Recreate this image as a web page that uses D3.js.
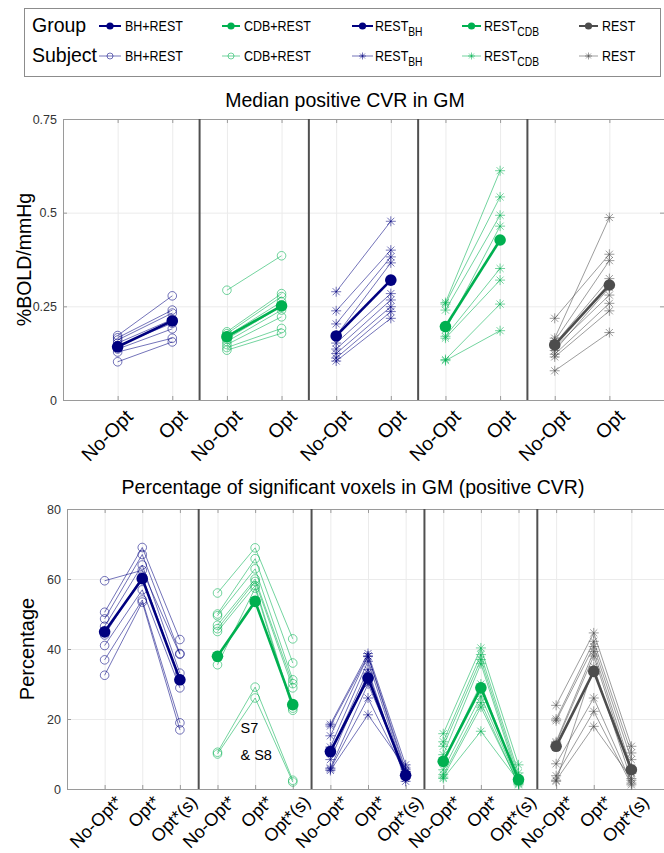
<!DOCTYPE html>
<html>
<head>
<meta charset="utf-8">
<script src="https://cdn.jsdelivr.net/npm/d3@7"></script>
<style>
  body { margin: 0; background: #fff; }
  svg { display: block; font-family: "Liberation Sans", Arial, Helvetica, sans-serif; }
  .grid line { stroke: #ebebeb; }
  .grid path { display: none; }
  .frame path, .frame line { stroke: #9a9a9a; }
  .frame text { fill: #333; }
</style>
</head>
<body>
<div id="graphic"></div>
<script>
// Categories and ticks
var groupNames = ["BH+REST", "CDB+REST", "REST_BH", "REST_CDB", "REST"];
var cvrConds = ["No-Opt", "Opt"];
var pctConds = ["No-Opt*", "Opt*", "Opt*(s)"];
var cvrTicks = [0, 0.25, 0.5, 0.75];
var pctTicks = [0, 20, 40, 60, 80];

// Median positive CVR in GM (%BOLD/mmHg): group medians [No-Opt, Opt]
var cvrMedian = [[0.142, 0.211], [0.169, 0.251], [0.171, 0.320], [0.196, 0.427], [0.147, 0.307]];
// per subject [No-Opt, Opt]
var cvrBH = [[0.172, 0.278], [0.166, 0.240], [0.160, 0.232], [0.152, 0.215], [0.145, 0.205], [0.136, 0.190], [0.128, 0.165], [0.102, 0.155]];
var cvrCDB = [[0.293, 0.385], [0.182, 0.284], [0.177, 0.276], [0.171, 0.262], [0.163, 0.250], [0.156, 0.240], [0.148, 0.222], [0.140, 0.191], [0.133, 0.178]];
var cvrRestBH = [[0.289, 0.477], [0.238, 0.400], [0.203, 0.382], [0.172, 0.366], [0.152, 0.284], [0.136, 0.267], [0.124, 0.249], [0.112, 0.236], [0.104, 0.218]];
var cvrRestCDB = [[0.260, 0.612], [0.256, 0.542], [0.240, 0.493], [0.187, 0.464], [0.170, 0.351], [0.165, 0.320], [0.108, 0.256], [0.105, 0.185]];
var cvrRest = [[0.218, 0.389], [0.165, 0.487], [0.158, 0.372], [0.150, 0.324], [0.140, 0.280], [0.132, 0.300], [0.122, 0.258], [0.115, 0.238], [0.078, 0.180]];

// Percentage of significant voxels in GM: group medians [No-Opt*, Opt*, Opt*(s)]
var pctMedian = [[44.9, 60.1, 31.2], [37.9, 53.6, 24.1], [10.7, 31.7, 3.9], [7.9, 28.9, 2.7], [12.2, 33.6, 5.5]];
// per subject [No-Opt*, Opt*, Opt*(s)]
var pctBH = [[59.5, 62.5, 38.5], [50.5, 69.0, 42.7], [48.6, 67.0, 38.7], [46.5, 64.0, 33.1], [44.0, 60.8, 31.4], [41.0, 56.9, 28.9], [36.9, 54.0, 18.9], [32.5, 53.4, 16.9]];
var pctCDB = [[56.0, 68.9, 42.9], [50.0, 65.8, 36.0], [49.5, 62.9, 31.2], [46.8, 60.0, 30.1], [45.8, 59.3, 28.9], [45.0, 58.1, 23.1], [35.5, 57.4, 22.5], [10.5, 29.1, 2.5], [10.0, 26.0, 2.0]];
var pctRestBH = [[18.5, 38.7, 6.9], [18.0, 38.0, 5.5], [15.2, 37.9, 4.6], [12.0, 36.5, 3.6], [10.3, 34.1, 2.2], [8.4, 33.1, 3.0], [6.0, 30.0, 5.0], [5.7, 26.0, 4.0], [5.3, 21.2, 6.0]];
var pctRestCDB = [[15.8, 40.3, 6.9], [13.5, 38.4, 4.6], [12.2, 37.0, 3.5], [9.8, 35.8, 2.5], [8.0, 30.0, 2.0], [5.5, 26.5, 1.7], [4.1, 24.7, 1.2], [3.4, 23.4, 1.5], [3.0, 16.5, 2.2]];
var pctRest = [[23.9, 44.6, 12.2], [20.0, 42.2, 10.3], [19.5, 40.7, 8.4], [13.5, 39.3, 6.0], [13.1, 38.0, 4.5], [7.2, 26.0, 1.7], [3.8, 22.2, 1.2], [2.5, 17.9, 3.0], [2.2, 35.0, 2.5]];

(function(d3) {
  // Group styling (colour + marker type)
  var styles = [
    { color: "#00007f", marker: "circle" },
    { color: "#00b050", marker: "circle" },
    { color: "#00007f", marker: "star" },
    { color: "#00b050", marker: "star" },
    { color: "#4d4d4d", marker: "star" }
  ];
  var subjAlpha = 0.55;

  var svg = d3.select("#graphic").append("svg")
      .attr("width", 664)
      .attr("height", 853);

  function star(r) {
    var a = r * 0.7071;
    return "M" + -r + ",0H" + r + "M0," + -r + "V" + r +
      "M" + -a + "," + -a + "L" + a + "," + a + "M" + -a + "," + a + "L" + a + "," + -a;
  }

  function marker(sel, type, color, size, filled) {
    if (type === "circle") {
      sel.append("circle")
        .attr("r", size)
        .attr("fill", filled ? color : "none")
        .attr("stroke", color)
        .attr("stroke-width", 1);
    } else {
      sel.append("path")
        .attr("d", star(size))
        .attr("fill", "none")
        .attr("stroke", color)
        .attr("stroke-width", 1);
    }
  }

  // One subplot: grid, separators, frame, subject + group lines
  function panel(p) {
    var nC = p.conds.length, nG = groupNames.length;
    var g = svg.append("g");

    var x = d3.scaleLinear().domain([0, nC * nG + 1]).range([p.left, p.right]);
    var y = d3.scaleLinear().domain(d3.extent(p.ticks)).range([p.bottom, p.top]);
    var xVals = d3.range(1, nC * nG + 1);
    var pos = function(gi, c) { return x(gi * nC + c + 1); };

    // Grid
    g.append("g").attr("class", "grid")
        .attr("transform", "translate(0," + p.bottom + ")")
        .call(d3.axisBottom(x).tickValues(xVals).tickSize(-(p.bottom - p.top)).tickFormat(""));
    g.append("g").attr("class", "grid")
        .attr("transform", "translate(" + p.left + ",0)")
        .call(d3.axisLeft(y).tickValues(p.ticks).tickSize(-(p.right - p.left)).tickFormat(""));

    // Frame: top and right (no labels)
    g.append("g").attr("class", "frame")
        .attr("transform", "translate(0," + p.top + ")")
        .call(d3.axisTop(x).tickValues(xVals).tickSizeInner(-4).tickSizeOuter(0).tickFormat(""));
    g.append("g").attr("class", "frame")
        .attr("transform", "translate(" + p.right + ",0)")
        .call(d3.axisRight(y).tickValues(p.ticks).tickSizeInner(-4).tickSizeOuter(0).tickFormat(""));

    // Left axis
    var yAxis = g.append("g").attr("class", "frame")
        .attr("transform", "translate(" + p.left + ",0)")
        .call(d3.axisLeft(y).tickValues(p.ticks).tickSizeInner(-4).tickSizeOuter(0).tickPadding(6)
          .tickFormat(function(d) { return String(d); }));
    yAxis.selectAll("text").style("font-size", "12.5px");

    // Bottom axis with rotated labels
    var xAxis = g.append("g").attr("class", "frame")
        .attr("transform", "translate(0," + p.bottom + ")")
        .call(d3.axisBottom(x).tickValues(xVals).tickSizeInner(-4).tickSizeOuter(0)
          .tickFormat(function(i) { return p.conds[(i - 1) % nC]; }));
    xAxis.selectAll("text")
        .attr("x", 0).attr("y", 0).attr("dy", "0.72em")
        .attr("text-anchor", "end")
        .attr("transform", "translate(" + p.labelDx + "," + p.labelDy + ") rotate(-45)")
        .style("font-size", p.labelSize + "px")
        .style("fill", "#000");

    // Group separators
    g.append("g").selectAll("line")
        .data(d3.range(1, nG))
      .enter().append("line")
        .attr("x1", function(gi) { return x(gi * nC + 0.5); })
        .attr("x2", function(gi) { return x(gi * nC + 0.5); })
        .attr("y1", p.top)
        .attr("y2", p.bottom)
        .attr("stroke", "#505050")
        .attr("stroke-width", 2);

    // Title and y label
    g.append("text")
        .attr("x", p.titleX).attr("y", p.titleY)
        .attr("text-anchor", "middle")
        .style("font-size", "19.5px")
        .text(p.title);
    g.append("text")
        .attr("transform", "translate(" + p.ylabelX + "," + (p.top + p.bottom) / 2 + ") rotate(-90)")
        .attr("text-anchor", "middle")
        .style("font-size", p.ylabelSize + "px")
        .text(p.ylabel);

    var line = d3.line();

    // Subjects + group median per condition group
    p.subjects.forEach(function(subs, gi) {
      var st = styles[gi];
      var sg = g.append("g")
          .attr("stroke-opacity", subjAlpha);
      sg.selectAll("path.subj")
          .data(subs)
        .enter().append("path")
          .attr("class", "subj")
          .attr("fill", "none")
          .attr("stroke", st.color)
          .attr("stroke-width", 1)
          .attr("d", function(row) {
            return line(row.map(function(v, c) { return [pos(gi, c), y(v)]; }));
          });
      var pts = [];
      subs.forEach(function(row) {
        row.forEach(function(v, c) { pts.push([pos(gi, c), y(v)]); });
      });
      sg.selectAll("g.pt")
          .data(pts)
        .enter().append("g")
          .attr("class", "pt")
          .attr("transform", function(d) { return "translate(" + d[0] + "," + d[1] + ")"; })
          .each(function() { marker(d3.select(this), st.marker, st.color, st.marker === "circle" ? 4.3 : 5, false); });

      // group median
      var med = p.median[gi];
      var mg = g.append("g");
      mg.append("path")
          .attr("fill", "none")
          .attr("stroke", st.color)
          .attr("stroke-width", 2.6)
          .attr("d", line(med.map(function(v, c) { return [pos(gi, c), y(v)]; })));
      mg.selectAll("circle")
          .data(med)
        .enter().append("circle")
          .attr("cx", function(v, c) { return pos(gi, c); })
          .attr("cy", function(v) { return y(v); })
          .attr("r", 5.8)
          .attr("fill", st.color);
    });

    return { x: x, y: y, pos: pos };
  }

  panel({
    left: 63, right: 664, top: 119, bottom: 400,
    conds: cvrConds, ticks: cvrTicks,
    median: cvrMedian,
    subjects: [cvrBH, cvrCDB, cvrRestBH, cvrRestCDB, cvrRest],
    title: "Median positive CVR in GM", titleX: 345, titleY: 107,
    ylabel: "%BOLD/mmHg", ylabelX: 31, ylabelSize: 19.5,
    labelDx: 6, labelDy: 8, labelSize: 19.5
  });

  var bottom = panel({
    left: 67, right: 669, top: 509, bottom: 789,
    conds: pctConds, ticks: pctTicks,
    median: pctMedian,
    subjects: [pctBH, pctCDB, pctRestBH, pctRestCDB, pctRest],
    title: "Percentage of significant voxels in GM (positive CVR)", titleX: 353, titleY: 494,
    ylabel: "Percentage", ylabelX: 34, ylabelSize: 20,
    labelDx: 9, labelDy: 5, labelSize: 18
  });

  // S7 & S8 annotation
  var ann = svg.append("g").style("font-size", "14.5px");
  ann.append("text")
      .attr("x", bottom.pos(1, 0) + 23).attr("y", bottom.y(16))
      .text("S7");
  ann.append("text")
      .attr("x", bottom.pos(1, 0) + 23).attr("y", bottom.y(8.3))
      .text("& S8");

  // Legend
  var leg = svg.append("g").attr("class", "legend");
  leg.append("rect")
      .attr("x", 24.5).attr("y", 8.5)
      .attr("width", 636).attr("height", 68)
      .attr("fill", "#fff")
      .attr("stroke", "#8c8c8c");

  var rows = [{ label: "Group", y: 26, filled: true }, { label: "Subject", y: 56, filled: false }];
  var lineX0 = [99, 222, 352, 462, 579];
  var lineX1 = [121, 240, 373, 481, 598];
  var textX = [125, 244, 375, 484, 602];

  rows.forEach(function(row) {
    leg.append("text")
        .attr("x", 32).attr("y", row.y + 6)
        .style("font-size", "19.5px")
        .text(row.label);

    groupNames.forEach(function(name, gi) {
      var st = styles[gi];
      var item = leg.append("g");
      var mx = (lineX0[gi] + lineX1[gi]) / 2;
      item.append("line")
          .attr("x1", lineX0[gi]).attr("x2", lineX1[gi])
          .attr("y1", row.y).attr("y2", row.y)
          .attr("stroke", st.color)
          .attr("stroke-width", row.filled ? 2 : 1)
          .attr("stroke-opacity", row.filled ? 1 : subjAlpha);
      var m = item.append("g")
          .attr("transform", "translate(" + mx + "," + row.y + ")")
          .attr("stroke-opacity", row.filled ? 1 : subjAlpha);
      if (row.filled) {
        m.append("circle").attr("r", 3.6).attr("fill", st.color);
      } else {
        marker(m, st.marker, st.color, st.marker === "circle" ? 3 : 3.5, false);
      }

      // narrow-looking label: regular font squeezed horizontally
      var parts = name.split("_");
      var t = item.append("text")
          .attr("transform", "translate(" + textX[gi] + "," + (row.y + 5) + ") scale(0.86,1)")
          .style("font-size", "14.5px");
      t.append("tspan").text(parts[0]);
      if (parts[1]) {
        t.append("tspan")
            .attr("dy", 5)
            .style("font-size", "12px")
            .text(parts[1]);
      }
    });
  });
})(d3);
</script>
</body>
</html>
